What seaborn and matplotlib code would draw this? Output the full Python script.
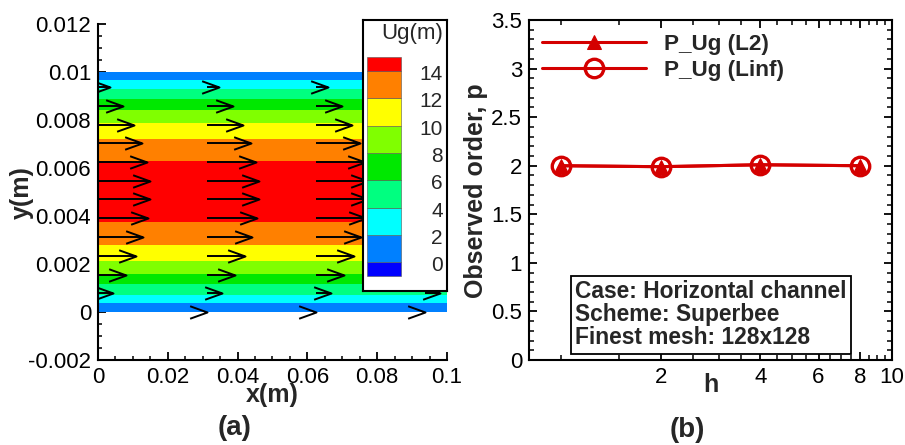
import numpy as np
import matplotlib
matplotlib.use("Agg")
import matplotlib.pyplot as plt
from matplotlib.path import Path
from matplotlib.markers import MarkerStyle
from matplotlib.ticker import FixedLocator, MultipleLocator, FuncFormatter, NullFormatter
import seaborn as sns

# ---------------- data ----------------
# velocity vectors on every 10th mesh row, four columns along the channel
vec_x = [0.0, 0.03125, 0.0625, 0.09375]
vec_y = [0.0, 0.00078, 0.00156, 0.00234, 0.00313, 0.00391, 0.00469,
         0.00547, 0.00625, 0.00703, 0.00781, 0.00859, 0.00938]
vec_u = [0.0, 4.3, 7.9, 10.8, 12.9, 14.3, 14.9, 14.9, 14.1, 12.5, 10.3, 7.3, 3.5]
# top wall node (no-slip, no vector drawn)
wall_y = 0.01
wall_u = 0.0
channel_x = [0.0, 0.1]

# contour levels of Ug and their flood colours
levels = [0, 2, 4, 6, 8, 10, 12, 14, 16]
level_labels = [0, 2, 4, 6, 8, 10, 12, 14]
band_colors = ["#0080ff", "#00ffff", "#00ff80", "#00e800", "#80ff00",
               "#ffff00", "#ff8000", "#ff0000"]
below_color = "#0000ff"

# observed order of accuracy vs. grid refinement ratio
h_values = [1, 2, 4, 8]
p_l2 = [2.00, 1.99, 2.01, 2.00]
p_linf = [2.00, 1.99, 2.01, 2.00]

info_lines = ["Case: Horizontal channel", "Scheme: Superbee", "Finest mesh: 128x128"]

# ---------------- style ----------------
sns.set_style("ticks")
plt.rcParams["font.family"] = ["Liberation Sans", "DejaVu Sans"]
plt.rcParams["axes.linewidth"] = 1.5
plt.rcParams["xtick.major.width"] = 1.3
plt.rcParams["ytick.major.width"] = 1.3
plt.rcParams["xtick.minor.width"] = 1.1
plt.rcParams["ytick.minor.width"] = 1.1
plt.rcParams["xtick.color"] = "black"
plt.rcParams["ytick.color"] = "black"
plt.rcParams["axes.edgecolor"] = "black"

RED = "#d40000"
fig = plt.figure(figsize=(9.05, 4.45), dpi=100)

gfmt = FuncFormatter(lambda v, pos: "%g" % round(v, 6))

# ---------------- (a) channel velocity field ----------------
ax1 = fig.add_axes([0.1083, 0.1910, 0.3856, 0.7551])
ax1.set_facecolor("white")

y_field = np.array(vec_y + [wall_y])
u_prof = np.array(vec_u + [wall_u])
U = np.column_stack([u_prof, u_prof])
ax1.contourf(channel_x, y_field, U, levels=levels, colors=band_colors, antialiased=True)

# open V-shaped arrow heads of fixed screen size, tip at the origin
head = MarkerStyle(Path([(-1.0, 0.36), (0.0, 0.0), (-1.0, -0.36)],
                        [Path.MOVETO, Path.LINETO, Path.LINETO]))
arrow_scale = 0.001  # metres of arrow per m/s
for x0 in vec_x:
    for y0, u0 in zip(vec_y, vec_u):
        tip = x0 + u0 * arrow_scale
        ax1.plot([x0, tip], [y0, y0], color="black", lw=1.4,
                 solid_capstyle="butt", zorder=3)
        ax1.plot([tip], [y0], marker=head, ms=25, mfc="none", mec="black",
                 mew=1.4, ls="none", zorder=3)

ax1.set_xlim(0, 0.1)
ax1.set_ylim(-0.002, 0.012)
ax1.xaxis.set_major_locator(MultipleLocator(0.02))
ax1.xaxis.set_minor_locator(MultipleLocator(0.005))
ax1.yaxis.set_major_locator(MultipleLocator(0.002))
ax1.yaxis.set_minor_locator(MultipleLocator(0.0005))
ax1.xaxis.set_major_formatter(gfmt)
ax1.yaxis.set_major_formatter(gfmt)
ax1.tick_params(which="both", direction="in", labelsize=16, pad=5)
ax1.tick_params(which="major", length=6)
ax1.tick_params(which="minor", length=3)
for side in ("top", "right"):
    ax1.spines[side].set_visible(False)
ax1.set_xlabel("x(m)", fontsize=18, fontweight="bold")
ax1.set_ylabel("y(m)", fontsize=18, fontweight="bold")
ax1.xaxis.set_label_coords(0.5, -0.069)
ax1.yaxis.set_label_coords(-0.183, 0.497)

# contour legend box
lax = fig.add_axes([0.4008, 0.3467, 0.0935, 0.6083])
lax.set_facecolor("white")
lax.set_xlim(0, 1)
lax.set_ylim(-2.08, 17.73)
lax.set_xticks([])
lax.set_yticks([])
for sp in lax.spines.values():
    sp.set_visible(True)
    sp.set_color("black")
    sp.set_linewidth(1.5)
bottoms = [-1] + levels[:-1]
heights = [1] + [2] * (len(levels) - 2) + [1]
swatch_colors = [below_color] + band_colors
lax.bar([0.047] * len(bottoms), heights, bottom=bottoms, width=0.402,
        align="edge", color=swatch_colors, edgecolor="#555555", linewidth=0.4)
for lv in level_labels:
    lax.text(0.946, lv - 0.25, str(lv), ha="right", va="center", fontsize=15)
lax.text(0.945, 16.76, "Ug(m)", ha="right", va="center", fontsize=16)

fig.text(0.259, 0.038, "(a)", ha="center", va="center", fontsize=20, fontweight="bold")

# ---------------- (b) observed order ----------------
ax2 = fig.add_axes([0.5845, 0.1910, 0.4011, 0.7640])
ax2.set_facecolor("white")
sns.lineplot(x=h_values, y=p_l2, ax=ax2, color=RED, lw=2.2, marker="^", ms=9.5,
             mec=RED, mfc=RED, label="P_Ug (L2)")
sns.lineplot(x=h_values, y=p_linf, ax=ax2, color=RED, lw=2.2, marker="o", ms=13.3,
             mec=RED, mfc="none", mew=2.4, label="P_Ug (Linf)")
ax2.set_xscale("log")
ax2.set_xlim(0.8, 10)
ax2.set_ylim(0, 3.5)
ax2.xaxis.set_major_locator(FixedLocator([2, 4, 6, 8, 10]))
ax2.xaxis.set_minor_locator(FixedLocator([1, 1.5, 2.5, 3, 3.5, 4.5, 5, 5.5,
                                          6.5, 7, 7.5, 8.5, 9, 9.5]))
ax2.xaxis.set_major_formatter(gfmt)
ax2.xaxis.set_minor_formatter(NullFormatter())
ax2.yaxis.set_major_locator(MultipleLocator(0.5))
ax2.yaxis.set_minor_locator(MultipleLocator(0.1))
ax2.yaxis.set_major_formatter(gfmt)
ax2.tick_params(which="both", direction="in", top=True, right=True, labelsize=16, pad=5)
ax2.tick_params(which="major", length=6)
ax2.tick_params(which="minor", length=3.5)
for sp in ax2.spines.values():
    sp.set_visible(True)
    sp.set_linewidth(1.5)
ax2.set_xlabel("h", fontsize=18, fontweight="bold")
ax2.set_ylabel("Observed order, p", fontsize=18, fontweight="bold")
ax2.xaxis.set_label_coords(0.5, -0.038)
ax2.yaxis.set_label_coords(-0.113, 0.498)

leg = ax2.legend(loc="upper left", frameon=False, handlelength=4.6,
                 handletextpad=0.8, labelspacing=0.25, borderpad=0.3,
                 borderaxespad=0.3, prop={"weight": "bold", "size": 16.2})

ax2.text(0.127, 0.236, "\n".join(info_lines), transform=ax2.transAxes,
         ha="left", va="top", fontsize=16.4, fontweight="bold", linespacing=1.02,
         bbox=dict(boxstyle="square,pad=0.18", fc="white", ec="black", lw=1.3))

fig.text(0.7597, 0.033, "(b)", ha="center", va="center", fontsize=20, fontweight="bold")

fig.savefig("out.png", dpi=100)
